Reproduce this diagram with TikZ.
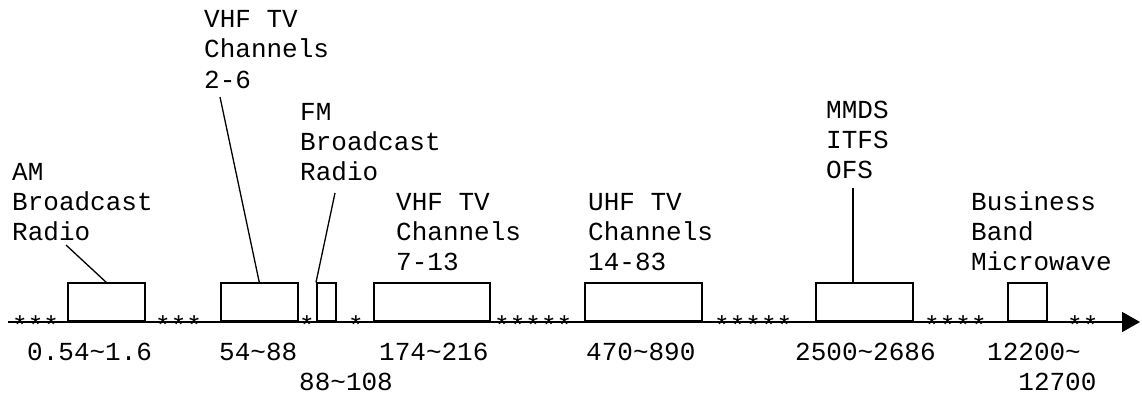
\documentclass[tikz,border=0pt]{standalone}
\usepackage{fontspec}
\setmainfont{Liberation Mono}
\usetikzlibrary{arrows.meta}

\begin{document}
\begin{tikzpicture}[x=1pt,y=-1pt,
    band/.style={draw,line width=1.6pt,inner sep=0pt,minimum height=38pt,anchor=south west},
    lbl/.style={anchor=base west,inner sep=0pt,align=left,
                font=\fontsize{26}{30}\selectfont},
    lead/.style={line width=1.3pt}]
  \useasboundingbox (0,0) rectangle (1142,396);

  % frequency axis
  \coordinate (axL) at (8,322);
  \coordinate (axR) at (1140,322);
  \draw[line width=1.6pt,-{Triangle[length=18pt,width=20pt]}] (axL) -- (axR);

  % bands
  \node[band,minimum width=77pt]  (amBox)    at (67,322)   {};
  \node[band,minimum width=77pt]  (vhfloBox) at (220,322)  {};
  \node[band,minimum width=19pt]  (fmBox)    at (316,322)  {};
  \node[band,minimum width=116pt] (vhfhiBox) at (373,322)  {};
  \node[band,minimum width=117pt] (uhfBox)   at (584,322)  {};
  \node[band,minimum width=97pt]  (mmdsBox)  at (815,322)  {};
  \node[band,minimum width=39pt]  (bizBox)   at (1007,322) {};

  % gaps
  \foreach \x/\s [count=\i] in {12/***,155/***,299/*,348/*,494/*****,714/*****,924/****,1067/**}
    \node[lbl] (gap\i) at (\x,334) {\s};

  % band names (base = last line)
  \node[lbl] (amLbl)    at (12,240)  {AM\\Broadcast\\Radio};
  \node[lbl] (vhfloLbl) at (204,88)  {VHF TV\\Channels\\2-6};
  \node[lbl] (fmLbl)    at (300,180) {FM\\Broadcast\\Radio};
  \node[lbl] (vhfhiLbl) at (396,270) {VHF TV\\Channels\\7-13};
  \node[lbl] (uhfLbl)   at (588,270) {UHF TV\\Channels\\14-83};
  \node[lbl] (mmdsLbl)  at (826,178) {MMDS\\ITFS\\OFS};
  \node[lbl] (bizLbl)   at (971,270) {Business\\Band\\Microwave};

  % ranges
  \node[lbl] (amRng)    at (27,360)  {0.54\textasciitilde1.6};
  \node[lbl] (vhfloRng) at (219,360) {54\textasciitilde88};
  \node[lbl] (fmRng)    at (299,390) {88\textasciitilde108};
  \node[lbl] (vhfhiRng) at (379,360) {174\textasciitilde216};
  \node[lbl] (uhfRng)   at (586,360) {470\textasciitilde890};
  \node[lbl] (mmdsRng)  at (795,360) {2500\textasciitilde2686};
  \node[lbl] (bizRng)   at (987,390) {12200\textasciitilde\\\phantom{12}12700};

  % leaders
  \coordinate (amTip)    at (66,245);
  \coordinate (vhfloTip) at (220,97);
  \coordinate (fmTip)    at (335,193);
  \coordinate (mmdsTip)  at (853,188);
  \draw[lead] (amTip) -- (amBox.north);
  \draw[lead] (vhfloTip) -- (vhfloBox.north);
  \draw[lead] (fmTip) -- (fmBox.north west);
  \draw[lead] (mmdsTip) -- (mmdsTip |- mmdsBox.north);
\end{tikzpicture}
\end{document}
